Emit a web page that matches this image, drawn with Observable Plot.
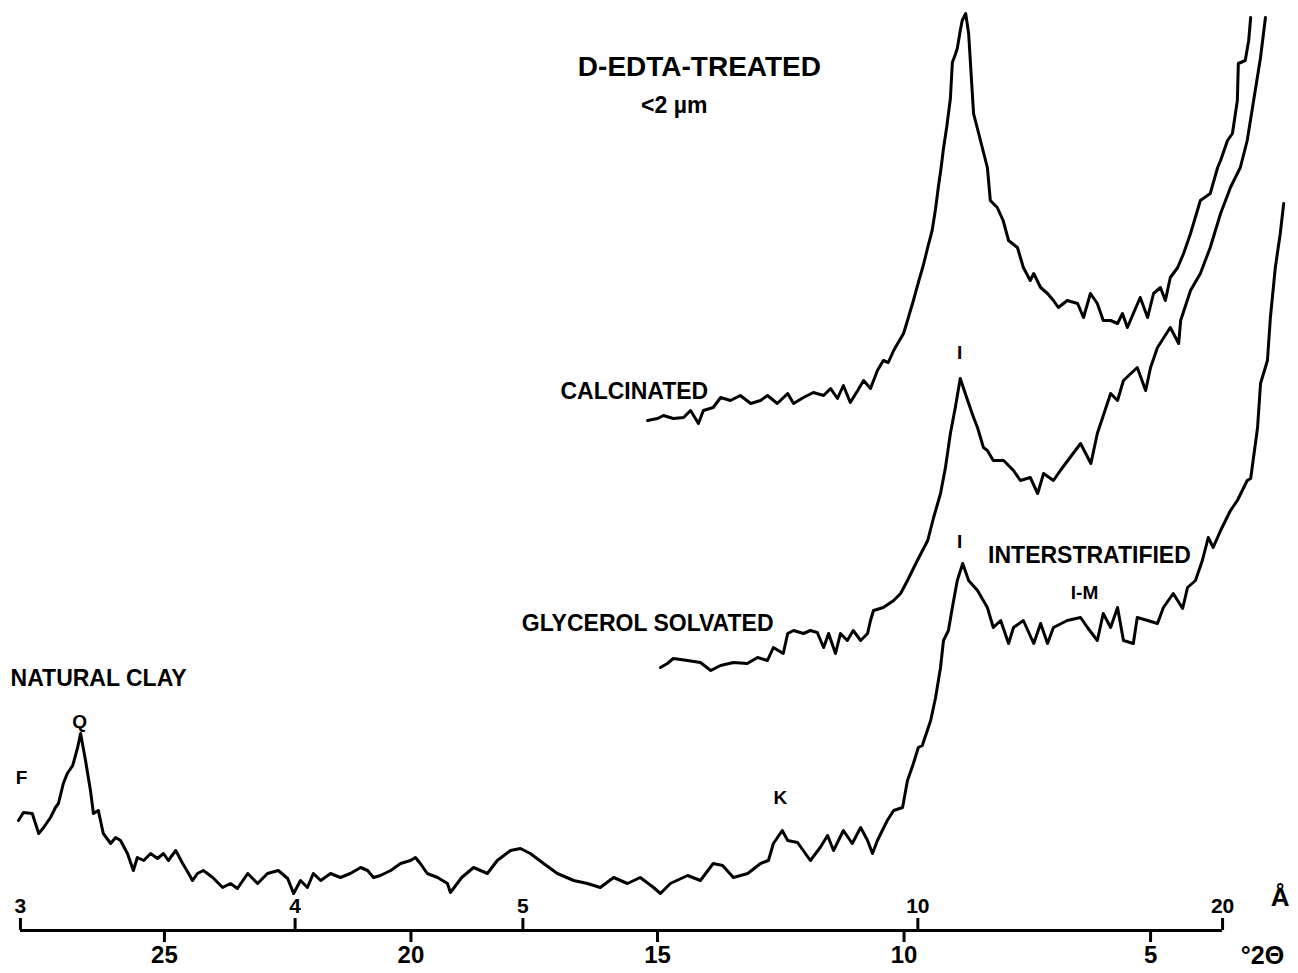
<!DOCTYPE html>
<html>
<head>
<meta charset="utf-8">
<script src="https://cdn.jsdelivr.net/npm/d3@7"></script>
<script src="https://cdn.jsdelivr.net/npm/@observablehq/plot@0.6"></script>
<style>
  html, body { margin: 0; padding: 0; background: #fff; }
  #chart svg { display: block; }
</style>
</head>
<body>
<div id="chart"></div>
<script>
// ---- Data: [°2θ, relative intensity (arbitrary units)] ----
const naturalClay = [
  [27.96,110],[27.86,118],[27.68,117],[27.55,97],[27.45,103],[27.31,113],[27.21,123],[27.15,127],
  [27.05,147],[26.97,157],[26.86,165],[26.76,183],[26.70,197],[26.60,170],[26.50,140],[26.44,117],
  [26.34,120],[26.24,97],[26.09,87],[25.99,93],[25.89,90],[25.75,77],[25.63,60],[25.55,73],
  [25.42,70],[25.28,77],[25.14,72],[25.02,77],[24.92,70],[24.77,80],[24.63,67],[24.51,57],
  [24.43,50],[24.33,57],[24.21,60],[24.02,53],[23.82,43],[23.66,47],[23.52,42],[23.31,57],
  [23.11,47],[22.91,57],[22.69,60],[22.50,52],[22.38,37],[22.24,50],[22.10,43],[21.98,57],
  [21.83,50],[21.63,57],[21.43,53],[21.23,57],[21.02,63],[20.88,60],[20.76,53],[20.62,55],
  [20.41,60],[20.21,67],[20.01,70],[19.91,73],[19.81,67],[19.67,57],[19.46,53],[19.26,47],
  [19.20,38],[18.97,53],[18.73,63],[18.45,57],[18.25,70],[17.98,80],[17.78,82],[17.58,77],
  [17.31,67],[17.03,57],[16.70,50],[16.42,47],[16.16,43],[15.89,53],[15.61,47],[15.35,53],
  [15.08,43],[14.94,37],[14.74,47],[14.39,55],[14.13,50],[13.87,67],[13.68,65],[13.46,53],
  [13.17,57],[12.91,67],[12.75,70],[12.65,87],[12.47,100],[12.36,90],[12.16,88],[11.90,70],
  [11.70,83],[11.55,95],[11.43,80],[11.23,100],[11.05,87],[10.88,103],[10.74,90],[10.64,77],
  [10.54,90],[10.34,110],[10.21,120],[10.03,123],[9.93,150],[9.81,167],[9.71,183],[9.63,185],
  [9.46,210],[9.36,233],[9.26,263],[9.20,290],[9.10,300],[9.02,323],[8.92,350],[8.81,367],
  [8.69,350],[8.51,340],[8.31,323],[8.19,303],[8.04,310],[7.88,287],[7.78,303],[7.58,310],
  [7.37,287],[7.23,307],[7.09,287],[6.97,303],[6.69,310],[6.42,313],[6.28,303],[6.08,290],
  [5.96,317],[5.81,303],[5.67,323],[5.55,290],[5.35,287],[5.27,313],[5.06,310],[4.86,307],
  [4.74,323],[4.54,337],[4.35,322],[4.25,343],[4.09,350],[3.95,370],[3.83,393],[3.73,383],
  [3.58,400],[3.38,420],[3.24,430],[3.04,450],[2.97,452],[2.83,503],[2.77,547],[2.63,570],
  [2.57,613],[2.47,663],[2.37,697],[2.30,727]
];

const glycerolSolvated = [
  [14.94,263],[14.80,267],[14.68,272],[14.39,270],[14.13,268],[13.92,260],[13.72,265],[13.46,268],
  [13.18,267],[12.97,273],[12.77,270],[12.65,283],[12.45,277],[12.36,297],[12.24,300],[12.04,297],
  [11.90,300],[11.76,298],[11.63,283],[11.53,297],[11.39,277],[11.29,297],[11.15,290],[11.03,300],
  [10.88,290],[10.74,297],[10.68,310],[10.62,320],[10.42,323],[10.21,330],[10.07,337],[9.93,350],
  [9.73,370],[9.52,390],[9.40,413],[9.26,437],[9.16,463],[9.06,497],[8.96,523],[8.86,552],
  [8.71,530],[8.59,513],[8.51,503],[8.39,483],[8.31,480],[8.19,470],[7.98,470],[7.78,460],
  [7.64,450],[7.44,453],[7.29,437],[7.17,457],[6.97,450],[6.83,460],[6.42,487],[6.21,467],
  [6.08,497],[5.81,537],[5.67,530],[5.55,550],[5.27,563],[5.10,540],[5.00,563],[4.86,583],
  [4.60,603],[4.43,587],[4.39,610],[4.19,640],[3.99,657],[3.79,683],[3.58,717],[3.38,743],
  [3.18,763],[3.04,790],[2.91,830],[2.77,873],[2.67,913]
];

const calcinated = [
  [15.20,510],[15.00,512],[14.88,515],[14.68,512],[14.47,513],[14.33,520],[14.17,507],[14.07,520],
  [13.87,523],[13.72,533],[13.52,530],[13.32,535],[13.11,527],[12.91,530],[12.77,535],[12.57,527],
  [12.36,537],[12.24,527],[12.04,533],[11.84,538],[11.63,535],[11.49,542],[11.35,532],[11.23,545],
  [11.09,528],[10.94,540],[10.82,550],[10.68,542],[10.54,560],[10.42,570],[10.32,568],[10.21,580],
  [10.13,587],[10.01,597],[9.93,610],[9.81,630],[9.71,648],[9.61,665],[9.52,683],[9.43,700],
  [9.36,722],[9.30,745],[9.25,762],[9.20,782],[9.13,805],[9.06,832],[9.02,868],[8.96,876],
  [8.92,882],[8.86,900],[8.82,910],[8.75,917],[8.69,897],[8.59,817],[8.45,790],
  [8.31,763],[8.25,730],[8.11,723],[7.99,710],[7.88,690],[7.70,683],[7.58,663],[7.44,650],
  [7.37,657],[7.23,643],[7.09,637],[6.97,630],[6.87,623],[6.69,630],[6.48,627],[6.36,613],
  [6.22,637],[6.08,627],[5.96,610],[5.81,610],[5.67,607],[5.57,617],[5.47,603],[5.35,617],
  [5.21,633],[5.06,613],[4.94,637],[4.80,643],[4.70,630],[4.60,653],[4.45,663],[4.33,677],
  [4.19,697],[3.99,730],[3.79,737],[3.64,763],[3.58,770],[3.44,790],[3.34,797],[3.24,830],
  [3.22,867],[3.08,870],[3.01,890],[2.97,913]
];

// ---- Axes ----
const thetaTicks = [25, 20, 15, 10, 5];           // °2θ (bottom, ticks down)
const dLabels = ["3", "4", "5", "10", "20"];       // Å (top of the line, ticks up)
const dPositions = [27.92, 22.35, 17.73, 9.72, 3.54]; // their °2θ positions
const axisExtent = [27.92, 3.54];

// ---- Annotations ----
const labelTexts = ["D-EDTA-TREATED", "<2 µm", "CALCINATED", "GLYCEROL SOLVATED", "INTERSTRATIFIED", "I-M"];
const labelX     = [14.15, 14.66, 15.47, 15.20, 6.24, 6.34];
const labelY     = [855, 818, 532, 300, 368, 332];
const labelSize  = [28, 23, 23, 23, 23, 19];

const peakTexts = ["Q", "F", "K", "I", "I"];
const peakX     = [26.72, 27.90, 12.51, 8.87, 8.87];
const peakY     = [203, 147, 127, 572, 383];

const toRows = (arr, name) => arr.map(([t, i]) => ({theta: t, intensity: i, series: name}));
const rows = [
  ...toRows(naturalClay, "NATURAL CLAY"),
  ...toRows(glycerolSolvated, "GLYCEROL SOLVATED"),
  ...toRows(calcinated, "CALCINATED")
];
const labels = labelTexts.map((t, i) => ({t, x: labelX[i], y: labelY[i], s: labelSize[i]}));
const peaks = peakTexts.map((t, i) => ({t, x: peakX[i], y: peakY[i]}));
const dTicks = dLabels.map((t, i) => ({t, x: dPositions[i]}));

const font = "'Liberation Sans', Arial, sans-serif";

const chart = Plot.plot({
  width: 1298,
  height: 973,
  marginLeft: 16,
  marginRight: 0,
  marginTop: 0,
  marginBottom: 43,
  x: {domain: [28, 2], axis: null},
  y: {domain: [0, 930], axis: null},
  style: {fontFamily: font, fontWeight: "bold", color: "black", background: "white"},
  marks: [
    // curves
    Plot.line(rows, {x: "theta", y: "intensity", z: "series", stroke: "black", strokeWidth: 3, strokeLinejoin: "round", strokeLinecap: "round"}),
    // axis line
    Plot.ruleY([{y: 0, a: axisExtent[0], b: axisExtent[1]}], {y: "y", x1: "a", x2: "b", stroke: "black", strokeWidth: 3}),
    // 2θ axis (ticks down)
    Plot.axisX(thetaTicks, {anchor: "bottom", tickSize: 12, tickPadding: 3, strokeWidth: 3, fontSize: 24, fontWeight: "bold", fill: "black", label: null}),
    // d-spacing ticks (up)
    Plot.ruleX(dTicks, {x: "x", y1: () => 0, y2: () => 12, stroke: "black", strokeWidth: 3}),
    Plot.text(dTicks, {x: "x", y: () => 18, text: "t", fontSize: 21, lineAnchor: "bottom", fill: "black"}),
    Plot.text(["Å"], {x: () => 2.37, y: () => 25, text: d => d, fontSize: 26, lineAnchor: "bottom", fill: "black"}),
    Plot.text(["°2Θ"], {x: () => 2.73, y: () => -33, text: d => d, fontSize: 25, lineAnchor: "bottom", fill: "black"}),
    // labels
    Plot.text(labels, {x: "x", y: "y", text: "t", fontSize: d => d.s, lineAnchor: "bottom", fill: "black"}),
    Plot.text(["NATURAL CLAY"], {x: () => 28.12, y: () => 245, text: d => d, fontSize: 23, textAnchor: "start", lineAnchor: "bottom", fill: "black"}),
    Plot.text(peaks, {x: "x", y: "y", text: "t", fontSize: 19, lineAnchor: "bottom", fill: "black"})
  ]
});

document.getElementById("chart").appendChild(chart);
</script>
</body>
</html>
